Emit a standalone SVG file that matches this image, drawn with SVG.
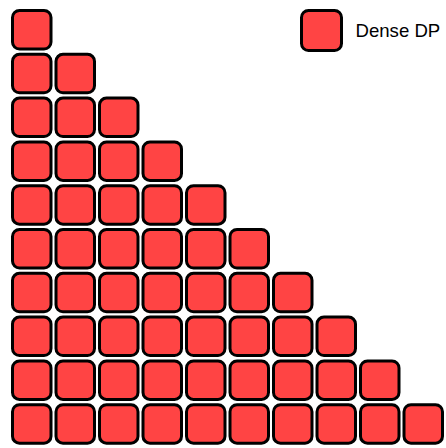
<svg xmlns="http://www.w3.org/2000/svg" width="446" height="448" viewBox="0 0 446 448">
<style>
.c{fill:#ff4444;stroke:#000;stroke-width:3}
.t{font-family:"Liberation Sans",Arial,sans-serif;font-size:18.6px;fill:#000}
</style>
<defs><rect id="b" width="38.5" height="38.5" rx="7" ry="7" class="c"/></defs>
<rect width="446" height="448" fill="#fff"/>
<g id="connectors"/>
<g id="r0c0"><use href="#b" x="12.5" y="10.5"/></g>
<g id="r1c0"><use href="#b" x="12.5" y="54.3"/></g>
<g id="r1c1"><use href="#b" x="56" y="54.3"/></g>
<g id="r2c0"><use href="#b" x="12.5" y="98.1"/></g>
<g id="r2c1"><use href="#b" x="56" y="98.1"/></g>
<g id="r2c2"><use href="#b" x="99.5" y="98.1"/></g>
<g id="r3c0"><use href="#b" x="12.5" y="141.9"/></g>
<g id="r3c1"><use href="#b" x="56" y="141.9"/></g>
<g id="r3c2"><use href="#b" x="99.5" y="141.9"/></g>
<g id="r3c3"><use href="#b" x="143" y="141.9"/></g>
<g id="r4c0"><use href="#b" x="12.5" y="185.7"/></g>
<g id="r4c1"><use href="#b" x="56" y="185.7"/></g>
<g id="r4c2"><use href="#b" x="99.5" y="185.7"/></g>
<g id="r4c3"><use href="#b" x="143" y="185.7"/></g>
<g id="r4c4"><use href="#b" x="186.5" y="185.7"/></g>
<g id="r5c0"><use href="#b" x="12.5" y="229.5"/></g>
<g id="r5c1"><use href="#b" x="56" y="229.5"/></g>
<g id="r5c2"><use href="#b" x="99.5" y="229.5"/></g>
<g id="r5c3"><use href="#b" x="143" y="229.5"/></g>
<g id="r5c4"><use href="#b" x="186.5" y="229.5"/></g>
<g id="r5c5"><use href="#b" x="230" y="229.5"/></g>
<g id="r6c0"><use href="#b" x="12.5" y="273.3"/></g>
<g id="r6c1"><use href="#b" x="56" y="273.3"/></g>
<g id="r6c2"><use href="#b" x="99.5" y="273.3"/></g>
<g id="r6c3"><use href="#b" x="143" y="273.3"/></g>
<g id="r6c4"><use href="#b" x="186.5" y="273.3"/></g>
<g id="r6c5"><use href="#b" x="230" y="273.3"/></g>
<g id="r6c6"><use href="#b" x="273.5" y="273.3"/></g>
<g id="r7c0"><use href="#b" x="12.5" y="317.1"/></g>
<g id="r7c1"><use href="#b" x="56" y="317.1"/></g>
<g id="r7c2"><use href="#b" x="99.5" y="317.1"/></g>
<g id="r7c3"><use href="#b" x="143" y="317.1"/></g>
<g id="r7c4"><use href="#b" x="186.5" y="317.1"/></g>
<g id="r7c5"><use href="#b" x="230" y="317.1"/></g>
<g id="r7c6"><use href="#b" x="273.5" y="317.1"/></g>
<g id="r7c7"><use href="#b" x="317" y="317.1"/></g>
<g id="r8c0"><use href="#b" x="12.5" y="360.9"/></g>
<g id="r8c1"><use href="#b" x="56" y="360.9"/></g>
<g id="r8c2"><use href="#b" x="99.5" y="360.9"/></g>
<g id="r8c3"><use href="#b" x="143" y="360.9"/></g>
<g id="r8c4"><use href="#b" x="186.5" y="360.9"/></g>
<g id="r8c5"><use href="#b" x="230" y="360.9"/></g>
<g id="r8c6"><use href="#b" x="273.5" y="360.9"/></g>
<g id="r8c7"><use href="#b" x="317" y="360.9"/></g>
<g id="r8c8"><use href="#b" x="360.5" y="360.9"/></g>
<g id="r9c0"><use href="#b" x="12.5" y="404.7"/></g>
<g id="r9c1"><use href="#b" x="56" y="404.7"/></g>
<g id="r9c2"><use href="#b" x="99.5" y="404.7"/></g>
<g id="r9c3"><use href="#b" x="143" y="404.7"/></g>
<g id="r9c4"><use href="#b" x="186.5" y="404.7"/></g>
<g id="r9c5"><use href="#b" x="230" y="404.7"/></g>
<g id="r9c6"><use href="#b" x="273.5" y="404.7"/></g>
<g id="r9c7"><use href="#b" x="317" y="404.7"/></g>
<g id="r9c8"><use href="#b" x="360.5" y="404.7"/></g>
<g id="r9c9"><use href="#b" x="404" y="404.7"/></g>
<g id="legend">
<rect x="301.5" y="10.5" width="40" height="40" rx="7" ry="7" class="c"/>
<text x="355.5" y="37" class="t">Dense DP</text>
</g>
</svg>
